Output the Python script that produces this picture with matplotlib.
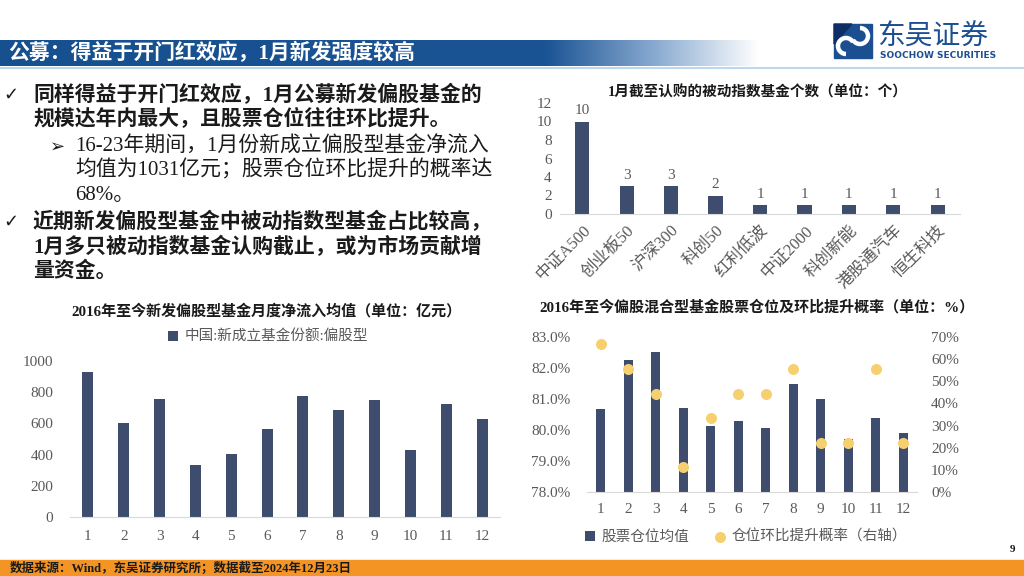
import numpy as np
import matplotlib
matplotlib.use('Agg')
import matplotlib.pyplot as plt
import matplotlib.ticker as mtick
from matplotlib.patches import Rectangle, Polygon, Arc
from matplotlib.colors import LinearSegmentedColormap

# 字体：数字用类 Times 字体，中文回落到 Noto Sans CJK
CJK = 'Noto Sans CJK SC'
plt.rcParams['font.family'] = ['Liberation Serif', CJK, 'DejaVu Sans']
plt.rcParams['axes.unicode_minus'] = False

# 数据
idx_names = ['中证A500', '创业板50', '沪深300', '科创50', '红利低波',
             '中证2000', '科创新能', '港股通汽车', '恒生科技']
idx_counts = [10, 3, 3, 2, 1, 1, 1, 1, 1]

months = list(range(1, 13))
inflow = [931, 604, 754, 332, 403, 563, 777, 685, 749, 428, 722, 630]

stock_pos = [80.68, 82.27, 82.52, 80.70, 80.13, 80.28, 80.08, 81.47, 81.01, 79.72, 80.39, 79.90]
up_prob = [66.7, 55.6, 44.4, 11.1, 33.3, 44.4, 44.4, 55.6, 22.2, 22.2, 55.6, 22.2]

BAR = '#3E4C6D'
DOT = '#F6D06F'
GRAY = '#595959'
LINE = '#D9D9D9'

W, H = 1024, 576
fig = plt.figure(figsize=(W / 100, H / 100), dpi=100)


def px_axes(x0, y0, x1, y1):
    return fig.add_axes([x0 / W, 1 - y1 / H, (x1 - x0) / W, (y1 - y0) / H])


def clean(ax):
    for s in ['top', 'right', 'left']:
        ax.spines[s].set_visible(False)
    ax.spines['bottom'].set_color(LINE)
    ax.tick_params(length=0, colors=GRAY)


# ---------- 页面装饰 ----------
deco = fig.add_axes([0, 0, 1, 1], zorder=-5)
deco.axis('off')

cmap = LinearSegmentedColormap.from_list(
    'hdr', [(0, '#17508F'), (0.72, '#1B5494'), (0.86, '#86A8CF'), (1, '#FFFFFF')])
deco.imshow(np.linspace(0, 1, 256)[None, :], extent=[0, 760, 66, 40],
            aspect='auto', cmap=cmap)
deco.set_xlim(0, W)
deco.set_ylim(H, 0)
deco.plot([0, W], [68, 68], color='#BDD7EE', lw=1.5)
deco.text(8, 54, '公募：得益于开门红效应，1月新发强度较高', color='white',
          fontsize=15, weight='bold', va='center')

# logo
deco.add_patch(Polygon([(834, 24), (872, 24), (872, 58), (834, 58)],
                       closed=True, color='#1B4F91'))
deco.add_patch(Polygon([(834, 24), (852, 24), (834, 44)], closed=True, color='#0E2F66'))
deco.add_patch(Arc((846, 46), 16, 16, theta1=90, theta2=330, color='white', lw=3.2))
deco.add_patch(Arc((860, 36), 16, 16, theta1=270, theta2=150, color='white', lw=3.2))
deco.text(877, 37, '东吴证券', fontsize=20, color='#1B4F91', family=CJK, va='center')
deco.text(880, 55, 'SOOCHOW SECURITIES', fontsize=6.5, color='#1B4F91',
          family='DejaVu Sans', weight='bold', va='center')

# 正文
body = [
    (3, 33, 95, '✓', '同样得益于开门红效应，1月公募新发偏股基金的', 'bold'),
    (None, 33, 119, None, '规模达年内最大，且股票仓位往往环比提升。', 'bold'),
    (50, 75, 147, '➢', '16-23年期间，1月份新成立偏股型基金净流入', 'normal'),
    (None, 75, 170, None, '均值为1031亿元；股票仓位环比提升的概率达', 'normal'),
    (None, 75, 195, None, '68%。', 'normal'),
    (3, 33, 222, '✓', '近期新发偏股型基金中被动指数型基金占比较高，', 'bold'),
    (None, 33, 247, None, '1月多只被动指数基金认购截止，或为市场贡献增', 'bold'),
    (None, 33, 272, None, '量资金。', 'bold'),
]
for bx, tx, ty, mark, txt, wt in body:
    if mark:
        deco.text(bx, ty, mark, family='DejaVu Sans', fontsize=13, color='#1A1A1A',
                  va='center', weight='bold')
    deco.text(tx, ty, txt, fontsize=15, color='#1A1A1A', va='center', weight=wt)

# 页脚
deco.add_patch(Rectangle((0, 560), W, 16, color='#F39425'))
deco.text(10, 568, '数据来源：Wind，东吴证券研究所；数据截至2024年12月23日',
          fontsize=9, weight='bold', color='#1A1A1A', va='center')
deco.text(1010, 549, '9', fontsize=8, weight='bold', color='#1A1A1A', va='center')

# ---------- 右上：被动指数基金个数 ----------
ax1 = px_axes(560, 103, 960, 214)
b1 = ax1.bar(range(len(idx_names)), idx_counts, width=0.32, color=BAR)
ax1.bar_label(b1, padding=3, fontsize=11, color=GRAY)
ax1.set_xlim(-0.5, len(idx_names) - 0.5)
ax1.set_ylim(0, 12)
ax1.set_yticks(range(0, 13, 2))
ax1.set_xticks(range(len(idx_names)))
ax1.set_xticklabels(idx_names, rotation=45, ha='right', rotation_mode='anchor',
                    fontsize=12)
clean(ax1)
ax1.tick_params(axis='y', labelsize=11, pad=6)
ax1.tick_params(axis='x', pad=6)
fig.text(758 / W, 1 - 92 / H, '1月截至认购的被动指数基金个数（单位：个）',
         ha='center', va='center', fontsize=10.5, weight='bold', color='#1A1A1A')

# ---------- 左下：月度净流入均值 ----------
ax2 = px_axes(70, 361, 500, 517)
b2 = ax2.bar(months, inflow, width=0.31, color=BAR)
ax2.set_xlim(0.5, 12.5)
ax2.set_ylim(0, 1000)
ax2.set_yticks(range(0, 1001, 200))
ax2.set_xticks(months)
clean(ax2)
ax2.tick_params(labelsize=11)
ax2.tick_params(axis='y', pad=12)
ax2.tick_params(axis='x', pad=9)
fig.text(266 / W, 1 - 311 / H, '2016年至今新发偏股型基金月度净流入均值（单位：亿元）',
         ha='center', va='center', fontsize=10.8, weight='bold', color='#1A1A1A')
ax2.legend([b2], ['中国:新成立基金份额:偏股型'], loc='center',
           bbox_to_anchor=(268 / W, 1 - 337 / H), bbox_transform=fig.transFigure,
           frameon=False, fontsize=10.5, handlelength=0.7, handleheight=0.7,
           handletextpad=0.4, labelcolor=GRAY)

# ---------- 右下：股票仓位及环比提升概率 ----------
ax3 = px_axes(587, 337, 917, 492)
b3 = ax3.bar(months, [v - 78 for v in stock_pos], bottom=78, width=0.33, color=BAR)
ax3.set_xlim(0.5, 12.5)
ax3.set_ylim(78, 83)
ax3.set_yticks(range(78, 84))
ax3.yaxis.set_major_formatter(mtick.PercentFormatter(decimals=1))
ax3.set_xticks(months)
clean(ax3)
ax3.tick_params(labelsize=11)
ax3.tick_params(axis='y', pad=12)
ax3.tick_params(axis='x', pad=8)

ax3r = ax3.twinx()
s3 = ax3r.scatter(months, up_prob, s=48, color=DOT, zorder=3)
ax3r.set_ylim(0, 70)
ax3r.set_yticks(range(0, 71, 10))
ax3r.yaxis.set_major_formatter(mtick.PercentFormatter(decimals=0))
for s in ['top', 'right', 'left', 'bottom']:
    ax3r.spines[s].set_visible(False)
ax3r.tick_params(length=0, colors=GRAY, labelsize=11, pad=10)

fig.text(757 / W, 1 - 307 / H, '2016年至今偏股混合型基金股票仓位及环比提升概率（单位：%）',
         ha='center', va='center', fontsize=10.8, weight='bold', color='#1A1A1A')
ax3.legend([b3, s3], ['股票仓位均值', '仓位环比提升概率（右轴）'], loc='center',
           bbox_to_anchor=(746 / W, 1 - 537 / H), bbox_transform=fig.transFigure,
           frameon=False, fontsize=10.5, ncol=2, handlelength=0.7, handleheight=0.7,
           handletextpad=0.4, columnspacing=1.8, labelcolor=GRAY)

fig.savefig('out.png', dpi=100)
